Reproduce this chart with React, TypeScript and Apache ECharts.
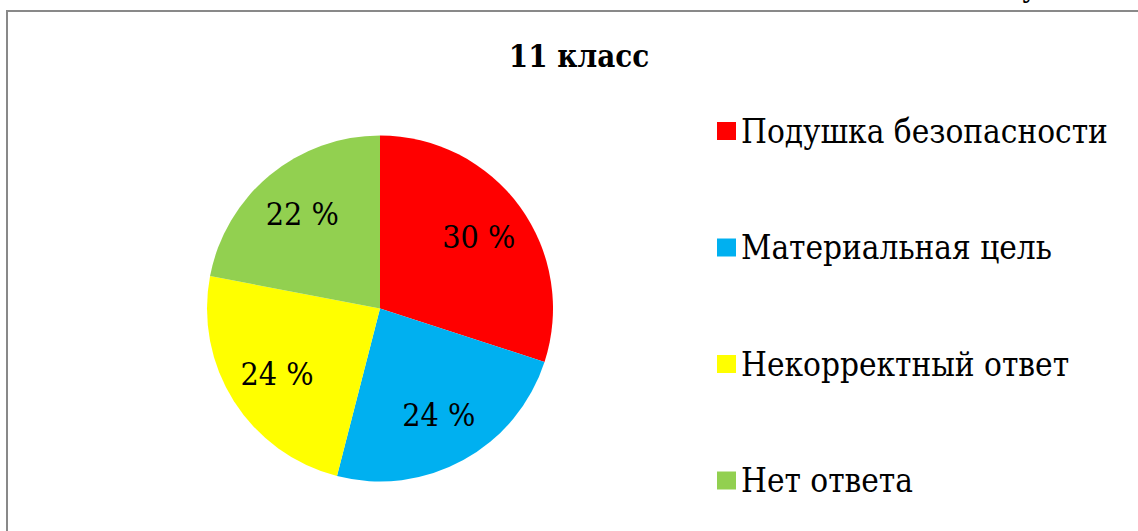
import React, { useEffect, useRef } from "react";
import * as echarts from "echarts";

const titleText = "11 класс";
const categories = ["Подушка безопасности", "Материальная цель", "Некорректный ответ", "Нет ответа"];
const values = [30, 24, 24, 22];
const colors = ["#FF0000", "#00B0F0", "#FFFF00", "#92D050"];

const FONT = "DejaVu Serif Condensed";

export default function App() {
  const ref = useRef<HTMLDivElement>(null);
  useEffect(() => {
    if (!ref.current) return;
    const chart = echarts.init(ref.current, undefined, { renderer: "svg" });
    const data = categories.map((name, i) => ({
      name,
      value: values[i],
      itemStyle: { color: colors[i] },
    }));
    chart.setOption({
      animation: false,
      backgroundColor: "#ffffff",
      title: {
        text: titleText,
        left: 574,
        textAlign: "center",
        top: 34,
        textStyle: { fontFamily: FONT, fontSize: 31, fontWeight: "bold", color: "#000", lineHeight: 34 },
      },
      legend: {
        orient: "vertical",
        left: 712,
        top: 109,
        itemWidth: 19,
        itemHeight: 18,
        itemGap: 82.5,
        icon: "rect",
        data: categories,
        selectedMode: false,
        textStyle: { fontFamily: FONT, fontSize: 33, color: "#000", lineHeight: 34 },
      },
      graphic: [
        {
          type: "rect",
          shape: { x: 7, y: 11, width: 1300, height: 700 },
          style: { fill: "none", stroke: "#898989", lineWidth: 2 },
          silent: true,
        },
        {
          type: "text",
          x: 1022,
          y: -29,
          style: { text: "у", fontFamily: FONT, fontSize: 30, fill: "#000" },
          silent: true,
        },
      ],
      series: [
        {
          type: "pie",
          center: [380, 308.5],
          radius: [0, 173],
          startAngle: 90,
          clockwise: true,
          silent: true,
          label: { show: false },
          labelLine: { show: false },
          data,
        },
        {
          type: "pie",
          center: [380, 308.5],
          radius: [65, 173],
          startAngle: 90,
          clockwise: true,
          silent: true,
          itemStyle: { color: "rgba(0,0,0,0)" },
          label: {
            show: true,
            position: "inside",
            formatter: (p: any) => `${p.value} %`,
            fontFamily: FONT,
            fontSize: 32,
            color: "#000",
          },
          labelLine: { show: false },
          data: categories.map((name, i) => ({ name, value: values[i], itemStyle: { color: "rgba(0,0,0,0)" } })),
        },
      ],
    });
    return () => chart.dispose();
  }, []);
  return (
    <div
      ref={ref}
      style={{ position: "fixed", left: 0, top: 0, width: 1138, height: 531 }}
    />
  );
}
